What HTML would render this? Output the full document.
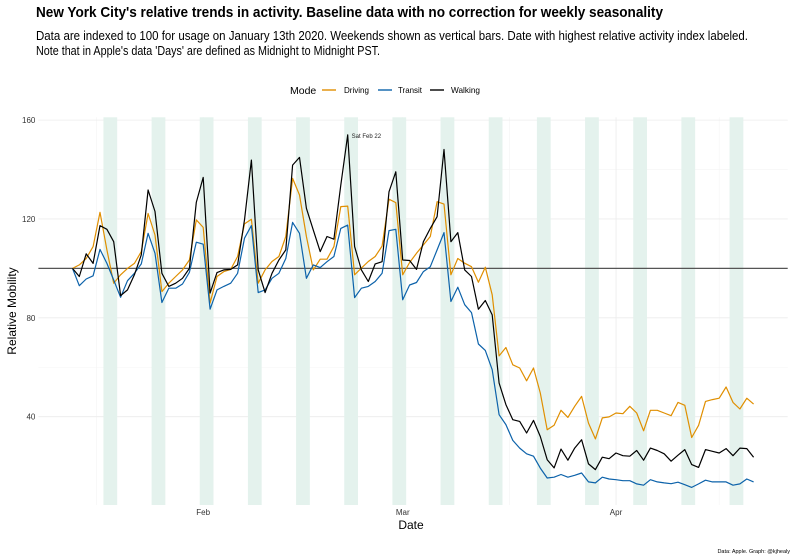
<!DOCTYPE html>
<html><head><meta charset="utf-8"><style>
html,body{margin:0;padding:0;background:#fff;}
svg{display:block;font-family:"Liberation Sans",sans-serif;}
</style></head><body>
<svg id="chart" width="800" height="560" viewBox="0 0 800 560">
<text x="36" y="17" font-size="15" font-weight="bold" textLength="627" lengthAdjust="spacingAndGlyphs">New York City's relative trends in activity. Baseline data with no correction for weekly seasonality</text>
<text x="36" y="40" font-size="12.5" textLength="712" lengthAdjust="spacingAndGlyphs">Data are indexed to 100 for usage on January 13th 2020. Weekends shown as vertical bars. Date with highest relative activity index labeled.</text>
<text x="36" y="55" font-size="12.5" textLength="344" lengthAdjust="spacingAndGlyphs">Note that in Apple's data 'Days' are defined as Midnight to Midnight PST.</text>
<g>
<text x="290" y="94" font-size="10.5">Mode</text>
<g><line x1="322" x2="336" y1="90" y2="90" stroke="#E08F00" stroke-width="1.4"/><text x="344" y="93" font-size="8.5" textLength="25" lengthAdjust="spacingAndGlyphs">Driving</text></g>
<g><line x1="378" x2="392" y1="90" y2="90" stroke="#0C62AA" stroke-width="1.4"/><text x="398" y="93" font-size="8.5" textLength="24" lengthAdjust="spacingAndGlyphs">Transit</text></g>
<g><line x1="430" x2="444" y1="90" y2="90" stroke="#000" stroke-width="1.4"/><text x="451" y="93" font-size="8.5" textLength="29" lengthAdjust="spacingAndGlyphs">Walking</text></g>
</g>
<g id="plot"></g>
<text transform="translate(16,311) rotate(-90)" text-anchor="middle" font-size="12">Relative Mobility</text>
<text x="411" y="529" text-anchor="middle" font-size="12">Date</text>
<text x="790" y="553" text-anchor="end" font-size="5.5">Data: Apple. Graph: @kjhealy</text>
</svg>
<script>
const driving=[100,101.4,104,108.8,122.7,107.5,94,97.4,100,102,106.8,122.2,113.5,90.6,94,96.7,99.4,103.4,119.6,116.6,86,96.7,98.7,99.6,104.8,118,119.9,94,99.4,102.8,104.8,112.9,136.4,129.7,112.9,99.4,103.7,103.7,108.8,125,125.2,97.4,100.1,102.8,104.8,109,128,126.6,97.4,102.4,106.1,109.5,112.9,127,126,97.4,104,102.1,100.7,94.4,100.5,89.3,64.6,68,61,59.7,54.5,59.7,49.6,34.7,36.5,42.6,39.7,44.2,48.2,37.4,31,39.5,39.9,41.5,41.2,44.2,41.5,34.3,42.6,42.6,41.5,40.4,45.8,44.6,31.6,36.5,46.2,46.9,47.5,52,45.8,43.1,47.5,45.1];
const transit=[100,93,95.7,97,107.7,102,95.3,88.3,95,98,101.8,114.2,106.1,86.2,92,92,93.7,98.4,110.6,109.8,83.5,91.3,92.7,94,98,112.2,117.3,90.2,91.3,96,98,104,118.6,114.2,96,101.4,100.3,102.7,104.8,116.2,117.5,88.2,92,92.7,94.7,98,115.3,115.8,87.3,93.3,94.3,98.7,100.7,107.5,114.5,86.6,92.4,85.3,82.1,69.4,66.8,59,40.8,36.8,30.4,27.3,25,24,19.2,15.2,15.5,16.6,15.5,16.3,17.2,13.6,13.2,15.5,14.8,14.5,14.1,14.1,12.8,12.3,14.5,13.6,13.2,12.9,13.5,12.5,11.4,12.8,14.3,13.6,13.6,13.6,12.3,12.8,14.8,13.6];
const walking=[100,96.7,105.9,102,117.3,115.8,110.8,89,91.3,97.4,105.5,131.7,123,98,92.7,94,96,100,126.7,136.8,90,98.3,99.4,99.6,101.4,119.6,143.8,99.4,90.2,98,103.4,107.5,141.8,144.9,124.3,115.5,106.8,112.9,111.8,133.7,154,108.8,99.4,94.7,101.8,102.7,131,139.1,103.4,103.2,99.6,110.8,116.2,120.9,148.1,110.8,114.5,99.4,96.7,83.5,87,81.2,53.6,44.9,38.8,38.1,33.4,38.5,32,22.6,19.3,26.9,22.4,27.3,30.7,20.9,18.6,23.6,23,25.3,24.2,24,26.3,22.4,27.3,26.3,25,22,24.4,26.7,20.6,19.5,26.7,26,25.3,27.1,24.2,27.3,27.1,23.6];
const yTicks=[40,80,120,160];
const monthTicks=[{d:19,label:"Feb"},{d:48,label:"Mar"},{d:79,label:"Apr"}];
const minorDays=[3.5,33.5,63.5,94];
const weekendStarts=[5,12,19,26,33,40,47,54,61,68,75,82,89,96];
const peakDay=40, peakLabel="Sat Feb 22";

const L=38.4,R=787.7,T=117.3,B=505;
const nDays=walking.length;
const allV=driving.concat(transit,walking);
const vmin=Math.min(...allV),vmax=Math.max(...allV),vr=vmax-vmin;
const y0=vmin-0.05*vr,y1=vmax+0.05*vr;
const dr=nDays-1;
const x=d=>L+(d+0.05*dr)/(dr*1.1)*(R-L);
const y=v=>B-(v-y0)/(y1-y0)*(B-T);
const NS="http://www.w3.org/2000/svg";
const plot=document.getElementById('plot');
function mk(tag,attrs){const e=document.createElementNS(NS,tag);for(const k in attrs)e.setAttribute(k,attrs[k]);plot.appendChild(e);return e;}
minorDays.forEach(d=>{const e=mk('line',{x1:x(d),x2:x(d),y1:T,y2:B,stroke:'#f4f4f4','stroke-width':0.6});

});
[60,100,140].forEach(v=>{const e=mk('line',{x1:L,x2:R,y1:y(v),y2:y(v),stroke:'#f4f4f4','stroke-width':0.6});

});
yTicks.forEach(v=>{const e=mk('line',{x1:L,x2:R,y1:y(v),y2:y(v),stroke:'#ececec','stroke-width':0.8});


const t=mk('text',{x:L-3,y:y(v)+3,'text-anchor':'end','font-size':8,fill:'#333'});t.textContent=v;

});
monthTicks.forEach(m=>{const e=mk('line',{x1:x(m.d),x2:x(m.d),y1:T,y2:B,stroke:'#ececec','stroke-width':0.8});


const t=mk('text',{x:x(m.d),y:B+10,'text-anchor':'middle','font-size':8,fill:'#333'});t.textContent=m.label;

});
weekendStarts.forEach(d=>{const e=mk('rect',{x:x(d-0.5),y:T,width:x(d+1.5)-x(d-0.5),height:B-T,fill:'#e4f2ed'});

});
const bl=mk('line',{x1:L,x2:R,y1:y(100),y2:y(100),stroke:'#555','stroke-width':1.3});


[[driving,'#E08F00','line-driving'],[transit,'#0C62AA','line-transit'],[walking,'#000','line-walking']].forEach(s=>{
const p=mk('polyline',{points:s[0].map((v,i)=>x(i).toFixed(1)+','+y(v).toFixed(1)).join(' '),fill:'none',stroke:s[1],'stroke-width':1.2,'stroke-linejoin':'round'});

});
const lab=mk('text',{x:x(peakDay)+4,y:y(walking[peakDay])+3,'font-size':6,fill:'#222'});lab.textContent=peakLabel;


</script>
</body></html>
